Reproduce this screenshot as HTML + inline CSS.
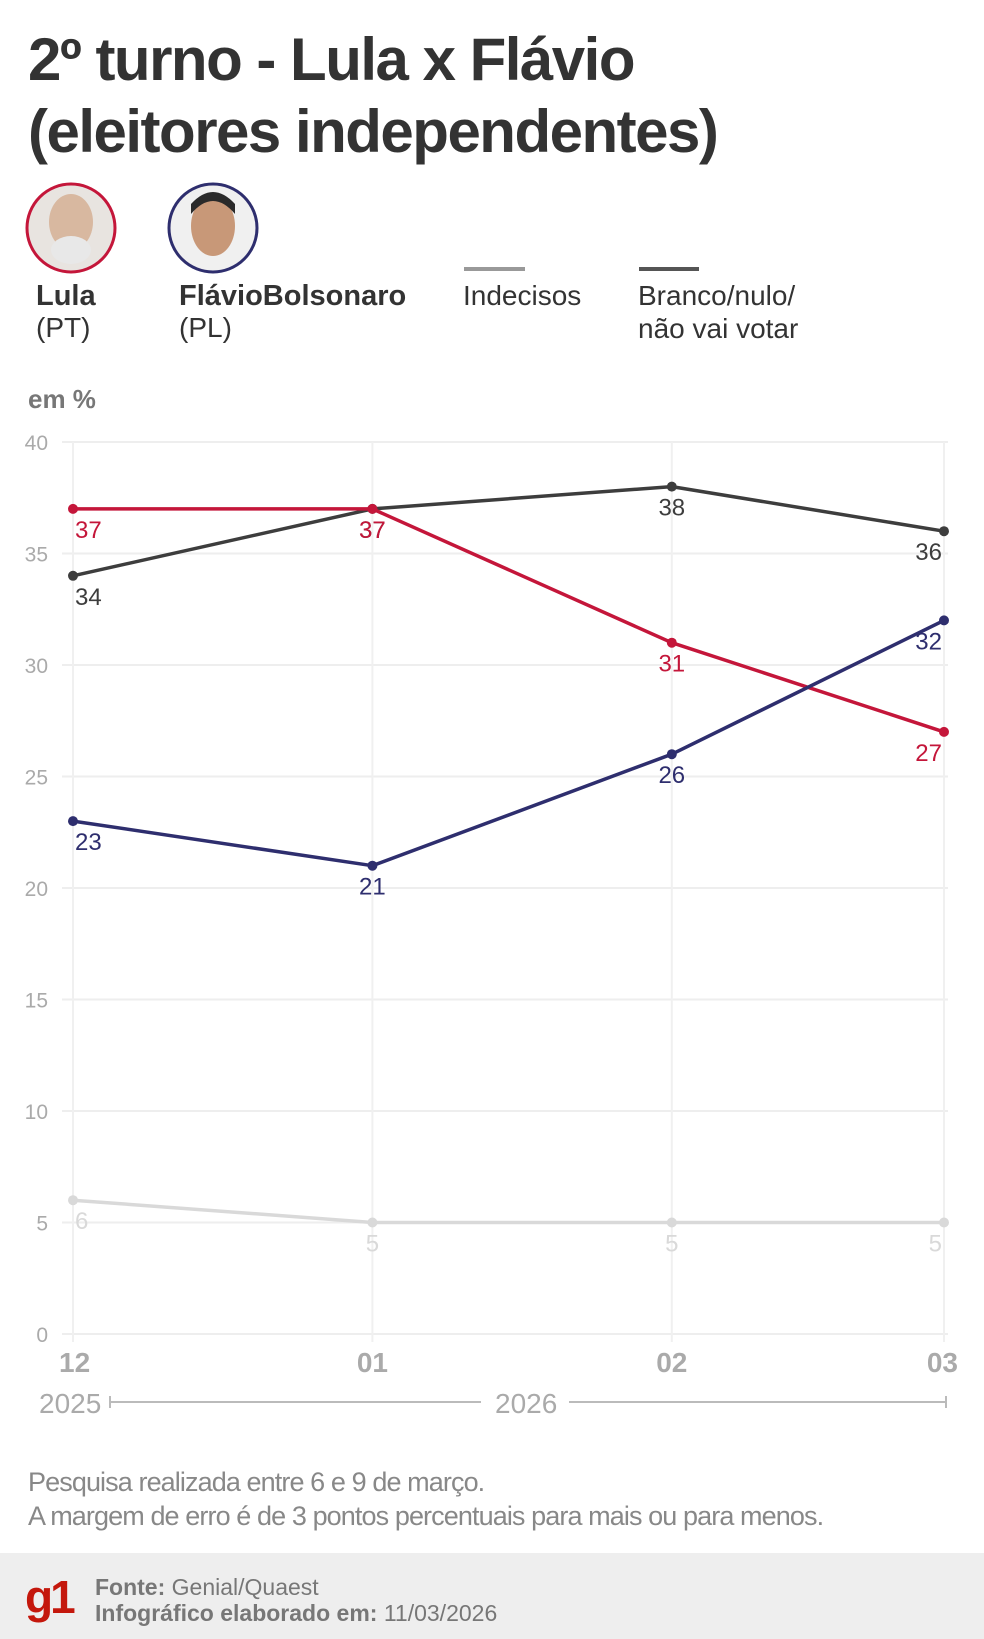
<!DOCTYPE html>
<html><head><meta charset="utf-8"><style>
html,body{margin:0;padding:0;background:#fff;}
svg{display:block;font-family:"Liberation Sans",sans-serif;}
</style></head><body>
<svg id="page" width="984" height="1639" viewBox="0 0 984 1639">
<g fill="#333" font-weight="bold" font-size="60" letter-spacing="-1.5">
<text x="28" y="80">2º turno - Lula x Flávio</text>
<text x="28" y="152">(eleitores independentes)</text>
</g>
<g>
<g>
<circle cx="71" cy="228" r="44" fill="#e8e4e0" stroke="#c4163a" stroke-width="3"/>
<ellipse cx="71" cy="222" rx="22" ry="28" fill="#d8b8a0"/>
<ellipse cx="71" cy="250" rx="20" ry="14" fill="#e8e8e8"/>
<text x="36" y="305" font-size="29" font-weight="bold" fill="#333">Lula</text>
<text x="36" y="337" font-size="28" fill="#333">(PT)</text>
</g>
<g>
<circle cx="213" cy="228" r="44" fill="#f0f0f0" stroke="#2e2e6e" stroke-width="3"/>
<ellipse cx="213" cy="226" rx="22" ry="30" fill="#c89878"/>
<path d="M191 214 Q213 188 235 214 L235 204 Q213 180 191 204Z" fill="#2a2a2a"/>
<text x="179" y="305" font-size="29" font-weight="bold" fill="#333">FlávioBolsonaro</text>
<text x="179" y="337" font-size="28" fill="#333">(PL)</text>
</g>
<g>
<line x1="464" y1="269" x2="525" y2="269" stroke="#999" stroke-width="4"/>
<text x="463" y="305" font-size="28" fill="#333">Indecisos</text>
</g>
<g>
<line x1="639" y1="269" x2="699" y2="269" stroke="#555" stroke-width="4"/>
<text x="638" y="305" font-size="28" fill="#333">Branco/nulo/</text>
<text x="638" y="338" font-size="28" fill="#333">não vai votar</text>
</g>
</g>
<text x="28" y="408" font-size="26" font-weight="bold" fill="#777">em %</text>
<g id="chart"></g>
<g fill="#aaa" font-size="28">
<text x="39" y="1413">2025</text>
<text x="495" y="1413">2026</text>
<line x1="110" y1="1402" x2="481" y2="1402" stroke="#bbb" stroke-width="2"/>
<line x1="110" y1="1396" x2="110" y2="1408" stroke="#bbb" stroke-width="2"/>
<line x1="569" y1="1402" x2="946" y2="1402" stroke="#bbb" stroke-width="2"/>
<line x1="946" y1="1396" x2="946" y2="1408" stroke="#bbb" stroke-width="2"/>
</g>
<g fill="#888" font-size="27" letter-spacing="-0.9">
<text x="28" y="1491">Pesquisa realizada entre 6 e 9 de março.</text>
<text x="28" y="1525">A margem de erro é de 3 pontos percentuais para mais ou para menos.</text>
</g>
<g>
<rect x="0" y="1553" width="984" height="86" fill="#eeeeee"/>
<text x="25" y="1613" font-size="46" font-weight="bold" fill="#c4170c" letter-spacing="-3">g1</text>
<text x="95" y="1595" font-size="23" fill="#777"><tspan font-weight="bold">Fonte:</tspan> Genial/Quaest</text>
<text x="95" y="1621" font-size="23" fill="#777"><tspan font-weight="bold">Infográfico elaborado em:</tspan> 11/03/2026</text>
</g>
</svg>
<script>
const categories = ["12", "01", "02", "03"];
const surveyDays = [0, 33, 66, 96];
const yTicks = [0, 5, 10, 15, 20, 25, 30, 35, 40];
const lula = [37, 37, 31, 27];
const flavio = [23, 21, 26, 32];
const indecisos = [6, 5, 5, 5];
const branco = [34, 37, 38, 36];

const NS = "http://www.w3.org/2000/svg";
const chart = document.getElementById("chart");
const dMax = surveyDays[surveyDays.length - 1];
function x(i){ return 73 + surveyDays[i] * (944 - 73) / dMax; }
function y(v){ return 1334 - v * (1334 - 442) / 40; }
function mk(tag, attrs){ const e = document.createElementNS(NS, tag); for (const k in attrs) e.setAttribute(k, attrs[k]); chart.appendChild(e); return e; }

yTicks.forEach(t => {
  const l = mk("line", {x1: 62, x2: 948, y1: y(t), y2: y(t), stroke: "#eeeeee", "stroke-width": 2});
  
  
  const tx = mk("text", {x: 48, y: y(t) + 8, "text-anchor": "end", "font-size": 21, fill: "#aaa"});
  tx.textContent = t;
  
  
});
categories.forEach((c, i) => {
  const l = mk("line", {x1: x(i), x2: x(i), y1: 442, y2: 1342, stroke: "#f0f0f0", "stroke-width": 2});
  
  
  const anchor = i === 0 ? "start" : i === categories.length - 1 ? "end" : "middle";
  const dx = i === 0 ? -14 : i === categories.length - 1 ? 14 : 0;
  const tx = mk("text", {x: x(i) + dx, y: 1372, "text-anchor": anchor, "font-size": 28, "font-weight": "bold", fill: "#aaa"});
  tx.textContent = c;
  
  
});

const series = [
  {name: "indecisos", vals: indecisos, color: "#d9d9d9", label: "#d9d9d9"},
  {name: "branco", vals: branco, color: "#3d3d3d", label: "#3d3d3d"},
  {name: "lula", vals: lula, color: "#c4163a", label: "#c4163a"},
  {name: "flavio", vals: flavio, color: "#2e2e6e", label: "#2e2e6e"}
];
series.forEach(s => {
  const pts = s.vals.map((v, i) => x(i) + "," + y(v)).join(" ");
  const pl = mk("polyline", {points: pts, fill: "none", stroke: s.color, "stroke-width": 3.5, "stroke-linejoin": "round"});
  
  
  s.vals.forEach((v, i) => {
    const c = mk("circle", {cx: x(i), cy: y(v), r: 5, fill: s.color});
    
    
    const anchor = i === 0 ? "start" : i === categories.length - 1 ? "end" : "middle";
    const dx = i === 0 ? 2 : i === categories.length - 1 ? -2 : 0;
    const t = mk("text", {x: x(i) + dx, y: y(v) + 29, "text-anchor": anchor, "font-size": 24, fill: s.label});
    t.textContent = v;
    
    
  });
});
</script>
</body></html>
